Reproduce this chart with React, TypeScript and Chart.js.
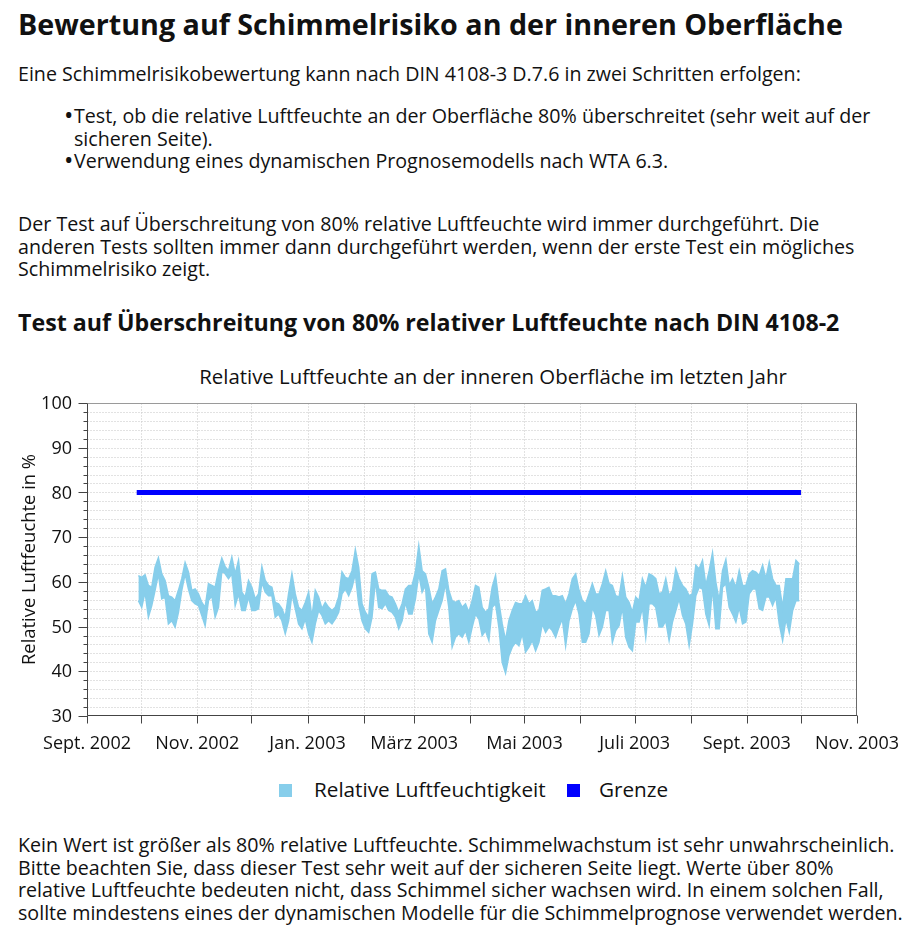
import React, { useEffect, useRef } from 'react';
import { Chart, registerables } from 'chart.js';

Chart.register(...registerables);

// ---- data ----
// days counted from 1 Sept 2002
const monthDays = [0, 30, 61, 91, 122, 153, 181, 212, 242, 273, 303, 334, 365, 395, 426];
const monthLabels = ['Sept. 2002', '', 'Nov. 2002', '', 'Jan. 2003', '', 'März 2003', '', 'Mai 2003', '', 'Juli 2003', '', 'Sept. 2003', '', 'Nov. 2003'];

const rhStartDay = 27.5;
const rhEndDay = 395;

// max / min of the relative humidity in consecutive ~2 day intervals
const rhMax = [
  61.4, 61.0, 61.6, 59.2, 58.8, 63.3, 65.4, 61.8, 60.3, 56.9,
  56.6, 55.8, 58.1, 60.7, 64.3, 62.2, 58.1, 58.4, 57.3, 55.4,
  54.3, 59.6, 59.2, 58.8, 62.5, 65.3, 63.4, 62.5, 65.5, 61.8,
  64.8, 57.7, 56.6, 60.3, 58.8, 56.2, 57.3, 63.4, 60.3, 59.2,
  58.8, 55.4, 55.1, 54.0, 52.1, 57.3, 61.8, 57.3, 54.3, 53.6,
  55.4, 57.7, 52.1, 58.1, 56.6, 54.0, 55.4, 54.3, 53.6, 54.3,
  56.6, 62.2, 61.0, 60.7, 62.5, 67.2, 63.3, 55.1, 53.2, 52.1,
  61.8, 62.2, 58.4, 58.1, 58.1, 56.9, 56.6, 55.1, 53.2, 55.1,
  58.4, 59.2, 59.2, 62.2, 68.1, 62.5, 61.8, 58.8, 55.1, 56.6,
  58.4, 62.5, 62.9, 58.1, 55.8, 55.4, 55.8, 54.3, 55.1, 53.2,
  55.8, 59.2, 58.8, 54.3, 53.2, 54.0, 58.8, 61.4, 55.4, 50.6,
  46.9, 51.3, 53.6, 55.4, 55.1, 55.1, 56.9, 55.1, 55.8, 53.2,
  53.6, 58.1, 58.4, 58.8, 56.9, 56.9, 56.6, 56.9, 55.1, 57.3,
  60.7, 61.8, 58.1, 55.8, 55.1, 57.3, 59.6, 57.3, 57.3, 59.6,
  62.5, 59.6, 59.2, 56.9, 56.6, 61.4, 56.6, 55.4, 53.2, 56.6,
  55.8, 60.7, 58.8, 61.8, 61.4, 60.7, 57.3, 57.7, 60.7, 56.9,
  58.1, 62.9, 60.7, 59.2, 58.4, 56.9, 57.3, 63.7, 62.9, 64.8,
  59.2, 62.5, 66.5, 59.9, 55.8, 62.5, 65.0, 59.2, 60.7, 58.8,
  62.5, 59.2, 59.2, 61.8, 62.5, 62.2, 61.4, 63.7, 60.7, 64.4,
  60.7, 59.2, 59.2, 54.3, 60.7, 60.7, 60.7, 64.8, 64.0,
];
const rhMin = [
  55.8, 54.3, 57.7, 52.1, 54.7, 58.1, 61.8, 56.2, 56.6, 50.6,
  51.3, 49.9, 53.2, 58.1, 61.8, 58.4, 55.8, 55.1, 54.7, 52.5,
  50.2, 55.8, 56.9, 52.1, 54.3, 62.5, 61.8, 60.7, 61.8, 54.7,
  57.3, 53.6, 53.6, 56.6, 53.6, 53.6, 54.0, 59.9, 57.7, 56.9,
  56.9, 52.1, 52.8, 51.3, 48.4, 51.3, 57.3, 54.0, 50.6, 49.5,
  51.7, 48.4, 46.5, 50.6, 53.6, 52.5, 50.6, 51.3, 50.6, 51.7,
  53.2, 57.3, 58.4, 56.9, 58.8, 61.8, 55.1, 51.3, 49.5, 48.7,
  52.1, 60.3, 54.3, 54.0, 55.1, 53.6, 53.2, 52.1, 49.5, 51.3,
  55.4, 52.8, 52.8, 56.2, 61.8, 57.7, 59.2, 48.4, 46.5, 51.3,
  53.6, 55.8, 59.6, 54.3, 45.4, 47.6, 48.4, 47.6, 49.1, 46.5,
  49.9, 52.8, 51.7, 48.0, 49.1, 46.9, 54.3, 55.1, 49.9, 42.0,
  39.6, 43.5, 45.4, 46.5, 45.7, 48.4, 44.3, 45.4, 46.9, 44.6,
  46.5, 50.6, 48.7, 49.9, 49.1, 47.6, 49.9, 51.7, 45.7, 51.3,
  54.0, 55.8, 52.8, 46.5, 46.5, 48.4, 54.3, 52.5, 48.0, 49.9,
  53.6, 53.6, 46.5, 49.1, 50.2, 54.3, 47.6, 45.4, 44.6, 51.0,
  51.0, 54.3, 47.6, 55.1, 55.1, 54.3, 49.9, 49.9, 51.3, 46.9,
  51.0, 53.6, 56.2, 52.5, 50.6, 45.7, 50.6, 56.9, 58.8, 58.4,
  52.8, 50.2, 58.8, 49.5, 49.5, 58.8, 59.6, 54.3, 52.8, 51.0,
  54.3, 50.6, 51.0, 57.3, 58.4, 58.4, 54.0, 53.6, 56.6, 56.6,
  54.7, 56.6, 50.6, 46.9, 51.7, 48.7, 53.6, 55.8, 55.8,
];

const limitValue = 80;
const yMin = 30;
const yMax = 100;
const yStep = 2;

const FONT = "'Open Sans', sans-serif";
const TEXT = '#111';
const RH_COLOR = '#87CEEB';
const LIMIT_COLOR = '#0000ff';
const TICK_FONT_SIZE = 18;

function buildSeries(values: number[]) {
  const n = Math.min(rhMax.length, rhMin.length);
  const step = (rhEndDay - rhStartDay) / n;
  const pts: { x: number; y: number }[] = [];
  for (let i = 0; i < n; i++) {
    pts.push({ x: rhStartDay + (i + 0.5) * step, y: values[i] });
  }
  return pts;
}

const framePlugin = {
  id: 'frame',
  beforeDatasetsDraw(chart: any) {
    const { ctx, chartArea: ca, scales } = chart;
    const x = scales.x;
    const y = scales.y;
    const L = Math.round(ca.left) + 0.5;
    const R = Math.round(ca.right) - 0.5;
    const T = Math.round(ca.top) + 0.5;
    const B = Math.round(ca.bottom) - 0.5;
    ctx.save();
    ctx.strokeStyle = '#c4c4c4';
    ctx.lineWidth = 1;
    ctx.setLineDash([1, 2]);
    ctx.beginPath();
    y.ticks.forEach((t: any) => {
      if (t.value <= yMin || t.value >= yMax) return;
      const py = Math.round(y.getPixelForValue(t.value)) + 0.5;
      ctx.moveTo(L, py);
      ctx.lineTo(R, py);
    });
    x.ticks.forEach((t: any) => {
      const px = Math.round(x.getPixelForValue(t.value)) + 0.5;
      if (px <= L + 1 || px >= R - 1) return;
      ctx.moveTo(px, T);
      ctx.lineTo(px, B);
    });
    ctx.stroke();
    ctx.restore();
  },
  afterDatasetsDraw(chart: any) {
    const { ctx, chartArea: ca, scales } = chart;
    const x = scales.x;
    const y = scales.y;
    const L = Math.round(ca.left) + 0.5;
    const R = Math.round(ca.right) - 0.5;
    const T = Math.round(ca.top) + 0.5;
    const B = Math.round(ca.bottom) - 0.5;
    ctx.save();
    ctx.lineWidth = 1;
    // top and right frame
    ctx.strokeStyle = '#9a9a9a';
    ctx.beginPath();
    ctx.moveTo(L, T);
    ctx.lineTo(R, T);
    ctx.stroke();
    ctx.strokeStyle = '#6a6a6a';
    ctx.beginPath();
    ctx.moveTo(R, T);
    ctx.lineTo(R, B);
    ctx.stroke();
    // axes
    ctx.strokeStyle = '#444';
    ctx.beginPath();
    ctx.moveTo(L, T);
    ctx.lineTo(L, B);
    ctx.lineTo(R + 0.5, B);
    ctx.stroke();
    // y ticks
    ctx.beginPath();
    y.ticks.forEach((t: any) => {
      const py = Math.round(y.getPixelForValue(t.value)) + 0.5;
      const len = t.value % 10 === 0 ? 9 : 4;
      ctx.moveTo(L - len, py);
      ctx.lineTo(L, py);
    });
    // x ticks
    x.ticks.forEach((t: any) => {
      const px = Math.round(x.getPixelForValue(t.value)) + 0.5;
      ctx.moveTo(px, B);
      ctx.lineTo(px, B + 8);
    });
    ctx.stroke();
    // y tick labels (major values only)
    ctx.fillStyle = TEXT;
    ctx.font = `${TICK_FONT_SIZE}px ${FONT}`;
    ctx.textAlign = 'right';
    ctx.textBaseline = 'middle';
    y.ticks.forEach((t: any) => {
      if (t.value % 10 !== 0) return;
      ctx.fillText(String(t.value), Math.round(ca.left) - 15, y.getPixelForValue(t.value) + 1);
    });
    ctx.restore();
  },
};

function RhChart() {
  const ref = useRef<HTMLCanvasElement | null>(null);
  useEffect(() => {
    if (!ref.current) return;
    const chart = new Chart(ref.current, {
      type: 'line',
      data: {
        datasets: [
          {
            label: 'Relative Luftfeuchtigkeit',
            data: buildSeries(rhMax),
            borderColor: RH_COLOR,
            backgroundColor: RH_COLOR,
            borderWidth: 1.5,
            pointRadius: 0,
            tension: 0,
            fill: '+1',
          },
          {
            label: 'Relative Luftfeuchtigkeit (min)',
            data: buildSeries(rhMin),
            borderColor: RH_COLOR,
            backgroundColor: RH_COLOR,
            borderWidth: 1.5,
            pointRadius: 0,
            tension: 0,
            fill: false,
          },
          {
            label: 'Grenze',
            data: [
              { x: rhStartDay, y: limitValue },
              { x: rhEndDay, y: limitValue },
            ],
            borderColor: LIMIT_COLOR,
            backgroundColor: LIMIT_COLOR,
            borderWidth: 5,
            borderCapStyle: 'butt',
            pointRadius: 0,
            fill: false,
          },
        ],
      },
      options: {
        animation: false,
        responsive: false,
        devicePixelRatio: 1,
        parsing: false as any,
        normalized: true,
        layout: { padding: { top: 8, right: 45, bottom: 0, left: 0 } },
        plugins: {
          legend: { display: false },
          title: { display: false },
          tooltip: { enabled: false },
          filler: { propagate: false },
        },
        scales: {
          x: {
            type: 'linear',
            min: monthDays[0],
            max: monthDays[monthDays.length - 1],
            afterBuildTicks: (s: any) => {
              s.ticks = monthDays.map((v) => ({ value: v }));
            },
            afterFit: (s: any) => {
              s.height = 40;
              s.paddingLeft = 0;
              s.paddingRight = 0;
            },
            grid: { display: false },
            border: { display: false },
            ticks: {
              autoSkip: false,
              maxRotation: 0,
              padding: 9,
              color: TEXT,
              font: { family: FONT, size: TICK_FONT_SIZE },
              callback: (v: any) => {
                const i = monthDays.indexOf(Number(v));
                return i >= 0 ? monthLabels[i] : '';
              },
            },
          },
          y: {
            type: 'linear',
            min: yMin,
            max: yMax,
            afterFit: (s: any) => {
              s.width = 69;
              s.paddingTop = 0;
              s.paddingBottom = 0;
            },
            grid: { display: false },
            border: { display: false },
            title: {
              display: true,
              text: 'Relative Luftfeuchte in %',
              color: TEXT,
              font: { family: FONT, size: 18.4 },
              padding: { top: 1, bottom: 0 },
            },
            ticks: {
              stepSize: yStep,
              autoSkip: false,
              display: false,
            },
          },
        },
      } as any,
      plugins: [framePlugin],
    });
    return () => chart.destroy();
  }, []);
  return (
    <canvas
      ref={ref}
      width={884}
      height={361}
      style={{ position: 'absolute', left: 18, top: 395, width: 884, height: 361, display: 'block' }}
    />
  );
}

const abs = (top: number, left: number, extra: React.CSSProperties = {}): React.CSSProperties => ({
  position: 'absolute',
  top,
  left,
  margin: 0,
  padding: 0,
  whiteSpace: 'nowrap',
  ...extra,
});

const body: React.CSSProperties = { fontSize: 19.65, lineHeight: '22.7px', fontWeight: 400 };
const bullet: React.CSSProperties = { position: 'absolute', left: 64, top: -2, fontSize: 25, lineHeight: '22.7px' };

export default function App() {
  return (
    <div style={{ position: 'absolute', left: 0, top: 0, width: 916, height: 945, fontFamily: FONT, color: TEXT, background: '#fff' }}>
      <h1 style={abs(6, 18, { fontSize: 28.7, lineHeight: '36px', fontWeight: 700 })}>
        Bewertung auf Schimmelrisiko an der inneren Oberfläche
      </h1>
      <p style={abs(63, 18, body)}>
        Eine Schimmelrisikobewertung kann nach DIN 4108-3 D.7.6 in zwei Schritten erfolgen:
      </p>
      <ul style={abs(105, 0, { ...body, listStyle: 'none' })}>
        <li style={{ position: 'relative', paddingLeft: 74 }}>
          <span style={bullet}>•</span>
          Test, ob die relative Luftfeuchte an der Oberfläche 80% überschreitet (sehr weit auf der
          <br />
          sicheren Seite).
        </li>
        <li style={{ position: 'relative', paddingLeft: 74 }}>
          <span style={bullet}>•</span>
          Verwendung eines dynamischen Prognosemodells nach WTA 6.3.
        </li>
      </ul>
      <p style={abs(213, 18, body)}>
        Der Test auf Überschreitung von 80% relative Luftfeuchte wird immer durchgeführt. Die
        <br />
        anderen Tests sollten immer dann durchgeführt werden, wenn der erste Test ein mögliches
        <br />
        Schimmelrisiko zeigt.
      </p>
      <h2 style={abs(308, 18, { fontSize: 23.2, lineHeight: '28px', fontWeight: 700 })}>
        Test auf Überschreitung von 80% relativer Luftfeuchte nach DIN 4108-2
      </h2>
      <div style={abs(364, 93, { width: 800, textAlign: 'center', fontSize: 20.4, lineHeight: '24px' })}>
        Relative Luftfeuchte an der inneren Oberfläche im letzten Jahr
      </div>
      <RhChart />
      <div style={abs(784, 279, { width: 13, height: 13, background: RH_COLOR })} />
      <div style={abs(777, 314, { fontSize: 20.7, lineHeight: '24px' })}>Relative Luftfeuchtigkeit</div>
      <div style={abs(784, 567, { width: 13, height: 13, background: LIMIT_COLOR })} />
      <div style={abs(777, 599, { fontSize: 20.7, lineHeight: '24px' })}>Grenze</div>
      <p style={abs(834, 18, body)}>
        Kein Wert ist größer als 80% relative Luftfeuchte. Schimmelwachstum ist sehr unwahrscheinlich.
        <br />
        Bitte beachten Sie, dass dieser Test sehr weit auf der sicheren Seite liegt. Werte über 80%
        <br />
        relative Luftfeuchte bedeuten nicht, dass Schimmel sicher wachsen wird. In einem solchen Fall,
        <br />
        sollte mindestens eines der dynamischen Modelle für die Schimmelprognose verwendet werden.
      </p>
    </div>
  );
}
